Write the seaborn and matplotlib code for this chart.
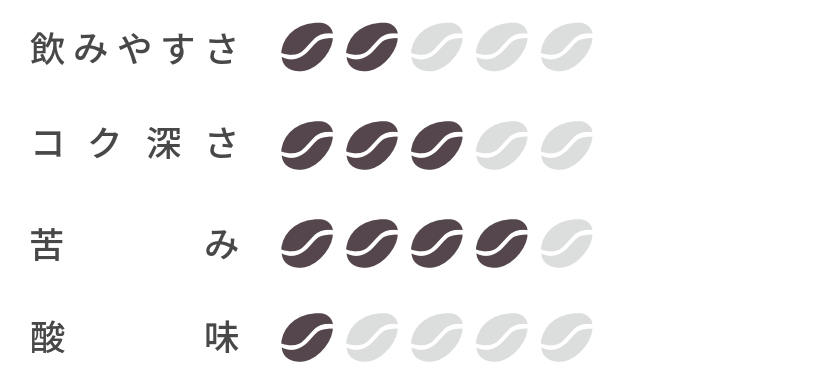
import numpy as np
import pandas as pd
import matplotlib
matplotlib.use('Agg')
import matplotlib.pyplot as plt
from matplotlib.path import Path
import seaborn as sns

labels = ['飲みやすさ', 'コク深さ', '苦み', '酸味']
ratings = [2, 3, 4, 1]
max_rating = 5

DARK = '#54464c'
LIGHT = '#dcdddd'
TEXT = '#484848'
W, H = 840, 380
# row layout in pixels
bean_rows = [47, 145.5, 243.5, 337.5]
text_rows = [52, 146, 248, 340]

sns.set_theme(style='white')
plt.rcParams['font.family'] = ['Noto Sans CJK JP', 'DejaVu Sans']


def bean_marker():
    # upper and lower halves, split by the white s-curve
    C = Path.CURVE4
    upper = [
        (-26, -6), (-25, 10), (-11, 25), (13, 24.5),
        (21, 24.5), (26, 18), (26, 13.5),
        (18, 14.5), (13, 13), (8, 9),
        (3.5, 4.5), (-1, -1), (-5, -4.5),
        (-10, -8.5), (-18, -9), (-26, -6),
        (-26, -6),
    ]
    lower = [
        (-25.5, -10), (-19, -13.5), (-10, -14.5), (0, -5.5),
        (4, -1.5), (8, 4), (12, 6.5),
        (16, 8.5), (21, 9), (26, 9),
        (26, -4), (10, -24.5), (-7, -24.5),
        (-18, -24.5), (-25, -19), (-25.5, -10),
        (-25.5, -10),
    ]
    codes = [Path.MOVETO] + [C] * 15 + [Path.CLOSEPOLY]
    return Path(np.array(upper + lower, dtype=float) / 26, codes + codes)


bean = bean_marker()
fig = plt.figure(figsize=(W / 100, H / 100), dpi=100)

for label, rating, by, ty in zip(labels, ratings, bean_rows, text_rows):
    ax = fig.add_axes([0, 1 - (by + 40) / H, 1, 80 / H])
    df = pd.DataFrame({'slot': np.arange(max_rating), 'row': 0})
    df['state'] = np.where(df['slot'] < rating, 'on', 'off')
    sns.scatterplot(data=df, x='slot', y='row', hue='state',
                    palette={'on': DARK, 'off': LIGHT}, marker=bean,
                    s=1375, linewidth=0, legend=False, ax=ax)
    ax.set_xlim((0 - 307) / 64.9, (W - 307) / 64.9)
    ax.set_ylim(-1, 1)
    ax.axis('off')
    # characters spread evenly over the label column
    for ch, cx in zip(label, np.linspace(47, 221, len(label))):
        fig.text(cx / W, 1 - ty / H, ch, ha='center', va='center',
                 fontsize=25.5, fontweight='medium', color=TEXT)

fig.savefig('out.png', dpi=100)
